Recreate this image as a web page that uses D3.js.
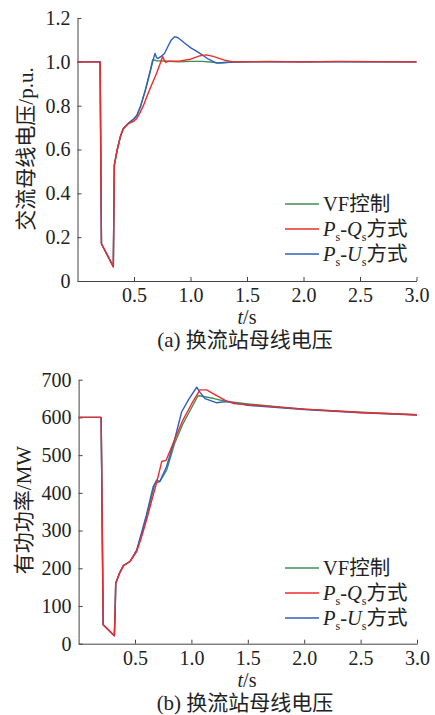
<!DOCTYPE html>
<html>
<head>
<meta charset="utf-8">
<script src="https://cdn.jsdelivr.net/npm/d3@7"></script>
<style>
  body { margin: 0; background: #fff; }
  svg text { font-family: "Liberation Serif", "Noto Sans CJK SC", serif; fill: #222; }
</style>
</head>
<body>
<div class="content"></div>
<script>
// Series data: [t (s), value]
var voltVF = [[0,1.0],[0.2,1.0],[0.212,0.17],[0.317,0.065],[0.326,0.53],[0.352,0.6],[0.38,0.66],[0.405,0.695],[0.45,0.72],[0.5,0.74],[0.525,0.755],[0.56,0.8],[0.6,0.87],[0.64,0.95],[0.665,1.01],[0.7,1.005],[0.8,1.003],[0.9,1.0],[1.0,1.002],[1.1,1.002],[1.2,0.998],[1.25,0.995],[1.35,0.998],[1.5,1.0],[1.7,1.002],[2.0,1.0],[2.3,1.001],[2.6,1.0],[3.0,1.0]];
var voltPQ = [[0,1.0],[0.2,1.0],[0.212,0.17],[0.317,0.065],[0.326,0.53],[0.352,0.6],[0.38,0.66],[0.405,0.695],[0.45,0.718],[0.5,0.73],[0.525,0.742],[0.55,0.765],[0.583,0.8],[0.62,0.85],[0.66,0.9],[0.7,0.948],[0.73,0.99],[0.754,1.024],[0.77,1.005],[0.783,0.997],[0.8,1.003],[0.9,1.003],[1.0,1.012],[1.08,1.027],[1.14,1.032],[1.2,1.025],[1.3,1.008],[1.38,1.0],[1.6,1.001],[2.0,1.0],[2.3,1.002],[3.0,1.0]];
var voltPU = [[0,1.0],[0.2,1.0],[0.212,0.17],[0.317,0.065],[0.326,0.53],[0.352,0.6],[0.38,0.66],[0.405,0.695],[0.45,0.72],[0.5,0.74],[0.525,0.755],[0.56,0.8],[0.6,0.87],[0.64,0.95],[0.67,1.01],[0.686,1.038],[0.7,1.02],[0.71,1.015],[0.74,1.025],[0.77,1.038],[0.8,1.07],[0.83,1.1],[0.86,1.115],[0.89,1.11],[0.95,1.085],[1.0,1.065],[1.08,1.04],[1.15,1.015],[1.23,0.994],[1.3,0.997],[1.4,1.0],[3.0,1.0]];

var powerVF = [[0,600],[0.2,600],[0.218,50],[0.317,21],[0.325,100],[0.329,160],[0.36,185],[0.397,207],[0.456,218],[0.515,248],[0.56,290],[0.6,335],[0.64,380],[0.677,425],[0.72,430],[0.78,460],[0.85,530],[0.92,580],[1.0,625],[1.06,658],[1.2,650],[1.3,643],[1.5,636],[1.8,627],[2.0,622],[2.5,614],[3.0,607]];
var powerPQ = [[0,600],[0.2,600],[0.218,50],[0.317,21],[0.325,100],[0.329,160],[0.36,185],[0.397,207],[0.456,218],[0.515,244],[0.56,285],[0.6,325],[0.64,370],[0.69,425],[0.737,483],[0.775,486],[0.85,540],[0.92,590],[1.0,635],[1.076,673],[1.135,673],[1.2,662],[1.3,645],[1.371,637],[1.5,634],[2.0,622],[2.5,613],[3.0,607]];
var powerPU = [[0,600],[0.2,600],[0.218,50],[0.317,21],[0.325,100],[0.329,160],[0.36,185],[0.397,207],[0.456,218],[0.515,248],[0.6,340],[0.66,415],[0.692,434],[0.72,430],[0.78,470],[0.85,540],[0.914,615],[0.98,650],[1.047,680],[1.08,665],[1.12,650],[1.22,639],[1.31,642],[1.5,632],[2.0,621],[2.5,612],[3.0,606]];

var xTicks = [0.5, 1.0, 1.5, 2.0, 2.5, 3.0];
var voltTicks = [0, 0.2, 0.4, 0.6, 0.8, 1.0, 1.2];
var powerTicks = [0, 100, 200, 300, 400, 500, 600, 700];

var seriesColors = {vf: "#3f8f55", pq: "#f02a2a", pu: "#2f5fc0"};

var svg = d3.select(".content").append("svg")
    .attr("width", 435)
    .attr("height", 715);

function legendLabel(sel, kind) {
  if (kind === "vf") {
    sel.append("tspan").text("VF控制");
    return;
  }
  sel.append("tspan").style("font-style", "italic").text("P");
  sel.append("tspan").attr("dy", 5).style("font-size", "12px").text("s");
  sel.append("tspan").attr("dy", -5).text("-");
  sel.append("tspan").style("font-style", "italic").text(kind === "pq" ? "Q" : "U");
  sel.append("tspan").attr("dy", 5).style("font-size", "12px").text("s");
  sel.append("tspan").attr("dy", -5).text("方式");
}

function drawPanel(cfg) {
  var x = d3.scaleLinear().domain([0, 3]).range(cfg.xRange);
  var y = d3.scaleLinear().domain(cfg.yDomain).range(cfg.yRange);
  var g = svg.append("g");

  var xAxis = g.append("g")
    .attr("transform", "translate(0," + cfg.yRange[0] + ")")
    .call(d3.axisBottom(x).tickValues(xTicks).tickFormat(d3.format(".1f"))
      .tickSizeInner(-4).tickSizeOuter(0).tickPadding(7));
  var yAxis = g.append("g")
    .attr("transform", "translate(" + cfg.xRange[0] + ",0)")
    .call(d3.axisLeft(y).tickValues(cfg.yTicks).tickFormat(cfg.yFormat)
      .tickSizeInner(-4).tickSizeOuter(0).tickPadding(7));
  [xAxis, yAxis].forEach(function(a) {
    a.selectAll("path, line").attr("stroke", "#444").attr("stroke-width", 1);
    a.selectAll("text").style("font-size", "20px").attr("fill", "#222");
  });

  var line = d3.line()
    .x(function(d) { return x(d[0]); })
    .y(function(d) { return y(d[1]); });

  cfg.series.forEach(function(s) {
    g.append("path")
      .attr("d", line(s.values))
      .attr("fill", "none")
      .attr("stroke", seriesColors[s.kind])
      .attr("stroke-width", 1.4)
      .attr("stroke-linejoin", "round");
  });

  // legend
  ["vf", "pq", "pu"].forEach(function(kind, i) {
    var ly = cfg.legendY + i * 25;
    g.append("line")
      .attr("x1", 285).attr("x2", 319)
      .attr("y1", ly).attr("y2", ly)
      .attr("stroke", seriesColors[kind])
      .attr("stroke-width", 1.6);
    var t = g.append("text")
      .attr("x", 323).attr("y", ly + 7)
      .style("font-size", "20.5px");
    legendLabel(t, kind);
  });

  // axis titles
  g.append("text")
    .attr("transform", "translate(" + cfg.yLabelX + "," + cfg.yLabelY + ") rotate(-90)")
    .attr("text-anchor", "middle")
    .style("font-size", "21px")
    .text(cfg.yLabel);

  var xl = g.append("text")
    .attr("x", 247).attr("y", cfg.xLabelY)
    .attr("text-anchor", "middle")
    .style("font-size", "20px");
  xl.append("tspan").style("font-style", "italic").text("t");
  xl.append("tspan").text("/s");

  g.append("text")
    .attr("x", 245).attr("y", cfg.captionY)
    .attr("text-anchor", "middle")
    .style("font-size", "21px")
    .text(cfg.caption);
}

drawPanel({
  xRange: [77.5, 416.5],
  yDomain: [0, 1.2],
  yRange: [281, 18],
  yTicks: voltTicks,
  yFormat: function(d) { return d === 0 ? "0" : d3.format(".1f")(d); },
  series: [{kind: "vf", values: voltVF}, {kind: "pu", values: voltPU}, {kind: "pq", values: voltPQ}],
  legendY: 204,
  yLabel: "交流母线电压/p.u.",
  yLabelX: 33, yLabelY: 149,
  xLabelY: 324,
  captionY: 347,
  caption: "(a)  换流站母线电压"
});

drawPanel({
  xRange: [78.6, 417],
  yDomain: [0, 700],
  yRange: [643.7, 379.7],
  yTicks: powerTicks,
  yFormat: d3.format("d"),
  series: [{kind: "vf", values: powerVF}, {kind: "pu", values: powerPU}, {kind: "pq", values: powerPQ}],
  legendY: 568,
  yLabel: "有功功率/MW",
  yLabelX: 31, yLabelY: 510,
  xLabelY: 687,
  captionY: 710,
  caption: "(b)  换流站母线电压"
});
</script>
</body>
</html>
